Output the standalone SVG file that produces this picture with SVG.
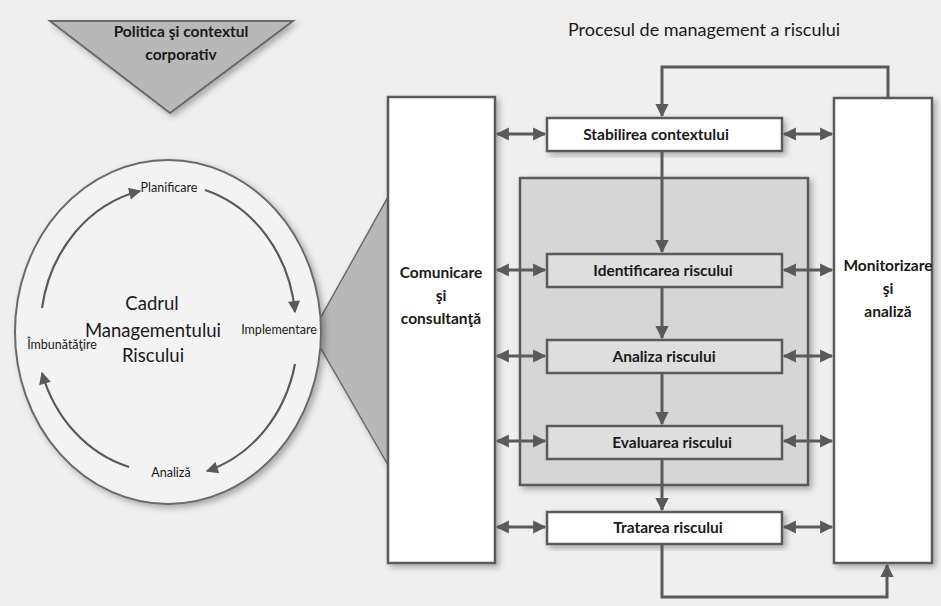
<svg xmlns="http://www.w3.org/2000/svg" width="941" height="606" viewBox="0 0 941 606">
<defs>
<filter id="sh" x="-20%" y="-20%" width="140%" height="140%">
<feDropShadow dx="3" dy="3" stdDeviation="3" flood-color="#000" flood-opacity="0.3"/>
</filter>
<marker id="ah" viewBox="0 0 10 10" refX="9" refY="5" markerWidth="5" markerHeight="4.4" orient="auto-start-reverse" markerUnits="strokeWidth">
<path d="M0,0 L10,5 L0,10 z" fill="#5a5a5a"/>
</marker>
<marker id="ah2" viewBox="0 0 10 10" refX="9" refY="5" markerWidth="6" markerHeight="5.5" orient="auto-start-reverse" markerUnits="strokeWidth">
<path d="M0,0 L10,5 L0,10 z" fill="#5a5a5a"/>
</marker>
</defs>
<style>
.t{font-family:Lato,"Open Sans","Liberation Sans",sans-serif;fill:#1a1a1a}
.b{font-weight:700;font-size:15.5px}
.box{stroke:#5a5a5a;stroke-width:2.5}
.wh{fill:#ffffff}
.gr{fill:#dedede}
.dbl{stroke:#5a5a5a;stroke-width:3;fill:none;marker-start:url(#ah);marker-end:url(#ah)}
.one{stroke:#5a5a5a;stroke-width:3;fill:none;marker-end:url(#ah)}
.arc{stroke:#5a5a5a;stroke-width:2.2;fill:none;marker-end:url(#ah2)}
</style>
<rect x="0" y="0" width="941" height="606" fill="#efefef"/>

<g id="politica">
<polygon points="50,21 293,21 170,113" fill="#b8b8b8" stroke="#6a6a6a" stroke-width="2" filter="url(#sh)"/>
<text class="t" x="181" y="37" text-anchor="middle" font-size="15.5" font-weight="700">Politica şi contextul</text>
<text class="t" x="181" y="60" text-anchor="middle" font-size="15.5" font-weight="700">corporativ</text>
</g>

<text class="t" x="704" y="36" text-anchor="middle" font-size="18">Procesul de management a riscului</text>

<g id="legatura">
<polygon points="312,333 388,197 388,465" fill="#b8b8b8" stroke="#6a6a6a" stroke-width="1.5" filter="url(#sh)"/>
</g>

<g id="cadrul">
<ellipse cx="168" cy="332" rx="153" ry="172" fill="#f3f3f3" stroke="#6a6a6a" stroke-width="2" filter="url(#sh)"/>
<text class="t" x="152" y="310" text-anchor="middle" font-size="18.5">Cadrul</text>
<text class="t" x="153" y="337" text-anchor="middle" font-size="18.5">Managementului</text>
<text class="t" x="153" y="362" text-anchor="middle" font-size="18.5">Riscului</text>
<text class="t" x="169" y="192" text-anchor="middle" font-size="12.5">Planificare</text>
<text class="t" x="279" y="334" text-anchor="middle" font-size="12.5">Implementare</text>
<text class="t" x="62" y="349" text-anchor="middle" font-size="12.5">Îmbunătăţire</text>
<text class="t" x="171" y="477" text-anchor="middle" font-size="12.5">Analiză</text>
</g>

<g id="ciclu">
<path class="arc" d="M42,308 A127,143 0 0 1 140,191"/>
<path class="arc" d="M205,190 A127,143 0 0 1 295,312"/>
<path class="arc" d="M295,364 A127,143 0 0 1 207,471"/>
<path class="arc" d="M129,467 A127,143 0 0 1 42,373"/>
</g>

<g id="evaluare-grup">
<rect x="520" y="178" width="288" height="307" fill="#d6d6d6" stroke="#5a5a5a" stroke-width="2.5" filter="url(#sh)"/>
</g>

<g id="comunicare">
<rect class="box wh" x="388" y="97" width="107" height="466" filter="url(#sh)"/>
<text class="t b" x="441" y="278" text-anchor="middle">Comunicare</text>
<text class="t b" x="441" y="301" text-anchor="middle">şi</text>
<text class="t b" x="441" y="324" text-anchor="middle">consultanţă</text>
</g>

<g id="monitorizare">
<rect class="box wh" x="834" y="98" width="98" height="465" filter="url(#sh)"/>
<text class="t b" x="888" y="271" text-anchor="middle">Monitorizare</text>
<text class="t b" x="888" y="294" text-anchor="middle">şi</text>
<text class="t b" x="888" y="317" text-anchor="middle">analiză</text>
</g>

<g id="stabilirea">
<rect class="box wh" x="547" y="118" width="235" height="33" filter="url(#sh)"/>
<text class="t b" x="656" y="140" text-anchor="middle">Stabilirea contextului</text>
</g>
<g id="identificarea">
<rect class="box gr" x="547" y="254" width="235" height="33"/>
<text class="t b" x="663" y="276" text-anchor="middle">Identificarea riscului</text>
</g>
<g id="analiza">
<rect class="box gr" x="547" y="340" width="235" height="33"/>
<text class="t b" x="664" y="362" text-anchor="middle">Analiza riscului</text>
</g>
<g id="evaluarea">
<rect class="box gr" x="547" y="426" width="235" height="33"/>
<text class="t b" x="672" y="448" text-anchor="middle">Evaluarea riscului</text>
</g>
<g id="tratarea">
<rect class="box wh" x="547" y="512" width="235" height="32" filter="url(#sh)"/>
<text class="t b" x="668" y="533" text-anchor="middle">Tratarea riscului</text>
</g>

<g id="conectori">
<polyline class="one" points="888,98 888,67 662,67 662,116"/>
<line class="one" x1="662" y1="152" x2="662" y2="252"/>
<line class="one" x1="662" y1="288" x2="662" y2="338"/>
<line class="one" x1="662" y1="374" x2="662" y2="424"/>
<line class="one" x1="662" y1="460" x2="662" y2="510"/>
<polyline class="one" points="662,545 662,597 887,597 887,565"/>
<line class="dbl" x1="497" y1="134" x2="545" y2="134"/>
<line class="dbl" x1="497" y1="270" x2="545" y2="270"/>
<line class="dbl" x1="497" y1="356" x2="545" y2="356"/>
<line class="dbl" x1="497" y1="441" x2="545" y2="441"/>
<line class="dbl" x1="497" y1="527" x2="545" y2="527"/>
<line class="dbl" x1="784" y1="134" x2="832" y2="134"/>
<line class="dbl" x1="784" y1="270" x2="832" y2="270"/>
<line class="dbl" x1="784" y1="356" x2="832" y2="356"/>
<line class="dbl" x1="784" y1="441" x2="832" y2="441"/>
<line class="dbl" x1="784" y1="527" x2="832" y2="527"/>
</g>
</svg>
